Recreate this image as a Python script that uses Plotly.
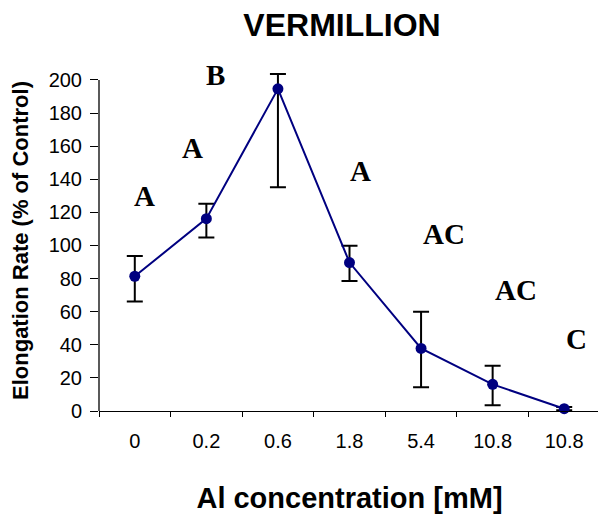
import plotly.graph_objects as go

# ---- data ----
categories = ["0", "0.2", "0.6", "1.8", "5.4", "10.8", "10.8"]
elongation = [81.4, 116.2, 194.6, 89.7, 37.8, 16.1, 1.4]
err_plus = [12.3, 9.0, 9.0, 10.2, 22.1, 11.2, 1.0]
err_minus = [15.3, 11.4, 59.5, 11.1, 23.5, 12.7, 1.0]
group_letters = ["A", "A", "B", "A", "AC", "AC", "C"]
y_ticks = [0, 20, 40, 60, 80, 100, 120, 140, 160, 180, 200]

# ---- layout helpers (positions of the letter labels) ----
letter_x_offset = [0.13, -0.19, -0.87, 0.15, 0.32, 0.33, 0.17]
letter_y = [129.7, 158.7, 203.0, 144.9, 106.9, 72.8, 43.4]

idx = list(range(len(categories)))

navy = "#000080"
fig = go.Figure()
fig.add_trace(go.Scatter(
    x=idx, y=elongation, mode="lines+markers",
    line=dict(color=navy, width=2),
    marker=dict(color=navy, size=11),
    error_y=dict(type="data", symmetric=False, array=err_plus, arrayminus=err_minus,
                 color="black", thickness=2, width=8),
    showlegend=False, cliponaxis=False,
))

for i, (lab, dx, ly) in enumerate(zip(group_letters, letter_x_offset, letter_y)):
    fig.add_annotation(x=i + dx, y=ly, text="<b>%s</b>" % lab, showarrow=False,
                       xref="x", yref="y",
                       font=dict(family="Liberation Serif", size=29, color="black"),
                       xanchor="center", yanchor="middle")

# y axis line only from 0 to 200
fig.add_shape(type="line", xref="paper", yref="y", x0=0, x1=0, y0=0, y1=200,
              line=dict(color="black", width=1.3), layer="above")

fig.update_layout(
    width=606, height=514,
    margin=dict(l=91, r=14, t=61.5, b=111, autoexpand=False),
    paper_bgcolor="white", plot_bgcolor="white",
    font=dict(family="Liberation Sans", color="black"),
    title=dict(text="<b>VERMILLION</b>", x=334 / 606, xanchor="center",
               y=1 - 16.5 / 514, yanchor="middle", yref="container",
               font=dict(family="Liberation Sans", size=32, color="black"), automargin=False),
    xaxis=dict(
        range=[-0.5, 6.5], tickvals=idx, ticktext=categories, ticks="",
        showgrid=False, zeroline=False, showline=True, linecolor="black", linewidth=1.3,
        tickfont=dict(size=20, color="black"), ticklabelstandoff=12, automargin=False,
        minor=dict(tickvals=[i - 0.5 for i in idx], ticks="outside", ticklen=5,
                   tickcolor="black", tickwidth=1.3, showgrid=False),
        title=dict(text="<b>Al concentration [mM]</b>", standoff=36,
                   font=dict(size=29, color="black")),
    ),
    yaxis=dict(
        range=[0, 206], tickvals=y_ticks, ticks="outside", ticklen=8, tickwidth=1.3,
        tickcolor="black", showgrid=False, zeroline=False, showline=False, automargin=False,
        tickfont=dict(size=20, color="black"), ticklabelstandoff=4,
        title=dict(text="<b>Elongation Rate (% of Control)</b>", standoff=14,
                   font=dict(size=22, color="black")),
    ),
)

fig.write_html("out.html")
